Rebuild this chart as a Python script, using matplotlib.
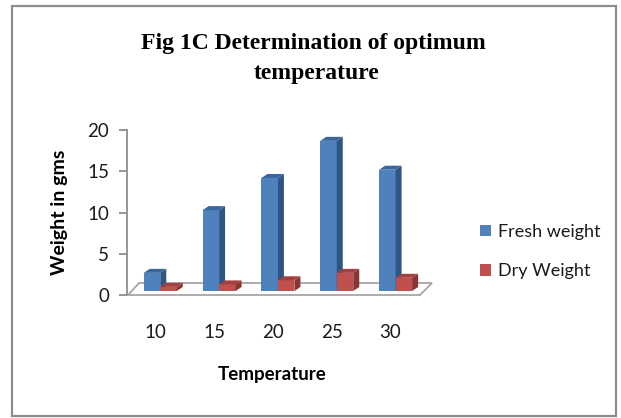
import matplotlib
matplotlib.use("Agg")
import matplotlib.pyplot as plt
from matplotlib.patches import Polygon, Rectangle
from matplotlib.transforms import ScaledTranslation

# --- data ---
temperature = ["10", "15", "20", "25", "30"]
fresh_weight = [2.2, 9.8, 13.7, 18.2, 14.7]
dry_weight = [0.5, 0.8, 1.3, 2.2, 1.6]

fresh_cols = ("#4F81BD", "#2F5583", "#3A659E")   # front, side, top
dry_cols = ("#C0504D", "#8B3533", "#A3413E")

W, H = 621, 418
fig = plt.figure(figsize=(W / 100, H / 100), dpi=100)
plt.rcParams["font.family"] = "Lato"

# plot area (pixels): x 127..420, y 130..295
L, R, T, B = 127, 420, 130, 295
ax = fig.add_axes([L / W, (H - B) / H, (R - L) / W, (B - T) / H])
xmin, xmax = -0.48, 4.5
ax.set_xlim(xmin, xmax)
ax.set_ylim(0, 20)
ppx = (R - L) / (xmax - xmin)
ppy = (B - T) / 20.0

# floor of the 3d box
fx, fy = 12 / (R - L), 12 / (B - T)
floor = Polygon([(0.004, 0), (1, 0), (1 + fx, fy), (fx, fy)], closed=True,
                transform=ax.transAxes, facecolor="white", edgecolor="#A6A6A6",
                lw=1.3, clip_on=False, zorder=1)
ax.add_patch(floor)

# bars sit a little behind the front edge of the floor
shift = ax.transData + ScaledTranslation(5 / 100, 4 / 100, fig.dpi_scale_trans)
bw = 16.5 / ppx
dx, dy = 6 / ppx, 4 / ppy


def draw_3d_bar(x0, val, cols, label=None):
    x1 = x0 + bw
    ax.bar(x0, val, width=bw, align="edge", color=cols[0], transform=shift,
           clip_on=False, zorder=2, label=label)
    side = Polygon([(x1, 0), (x1, val), (x1 + dx, val + dy), (x1 + dx, dy)],
                   closed=True, facecolor=cols[1], edgecolor="none",
                   transform=shift, clip_on=False, zorder=2)
    top = Polygon([(x0, val), (x1, val), (x1 + dx, val + dy), (x0 + dx, val + dy)],
                  closed=True, facecolor=cols[2], edgecolor="none",
                  transform=shift, clip_on=False, zorder=2)
    ax.add_patch(side)
    ax.add_patch(top)


for i in range(len(temperature)):
    draw_3d_bar(i - bw, fresh_weight[i], fresh_cols,
                label="Fresh weight" if i == 0 else None)
    draw_3d_bar(i, dry_weight[i], dry_cols,
                label="Dry Weight" if i == 0 else None)

# axes styling
for s in ["top", "right", "bottom"]:
    ax.spines[s].set_visible(False)
ax.spines["left"].set_color("#8C8C8C")
ax.spines["left"].set_linewidth(1.3)
ax.set_yticks([0, 5, 10, 15, 20])
ax.tick_params(axis="y", length=6, width=1.3, color="#8C8C8C", pad=7,
               labelsize=13.5, labelcolor="#1A1A1A")
ax.set_xticks(range(len(temperature)))
ax.set_xticklabels(temperature)
ax.tick_params(axis="x", length=0, pad=21, labelsize=13.5, labelcolor="#1A1A1A")
ax.patch.set_visible(False)

ax.set_ylabel("Weight in gms", fontsize=14, fontweight="bold")
ax.set_xlabel("Temperature", fontsize=13.5, fontweight="bold")
ax.xaxis.set_label_coords((272 - L) / (R - L), -(366 - B) / (B - T))
ax.yaxis.set_label_coords(-(L - 68) / (R - L), (B - 212) / (B - T))

fig.text(313 / W, 1 - 43 / H, "Fig 1C Determination of optimum",
         ha="center", va="center", family="Liberation Serif",
         fontweight="bold", fontsize=17)
fig.text(317 / W, 1 - 74 / H, "temperature",
         ha="center", va="center", family="Liberation Serif",
         fontweight="bold", fontsize=17)

leg = ax.legend(loc="center left", bbox_to_anchor=(480 / W, 1 - 251.5 / H),
                bbox_transform=fig.transFigure, frameon=False, fontsize=13,
                handlelength=0.6, handleheight=0.6, handletextpad=0.4,
                labelspacing=1.3, borderpad=0, borderaxespad=0)
for t in leg.get_texts():
    t.set_color("#1A1A1A")

# outer frame of the chart
fig.patches.append(Rectangle((12 / W, 1 - 416 / H), (616 - 12) / W, (416 - 6) / H,
                             transform=fig.transFigure, fill=False,
                             edgecolor="#8C8C8C", lw=1.6))

fig.savefig("out.png", dpi=100)
